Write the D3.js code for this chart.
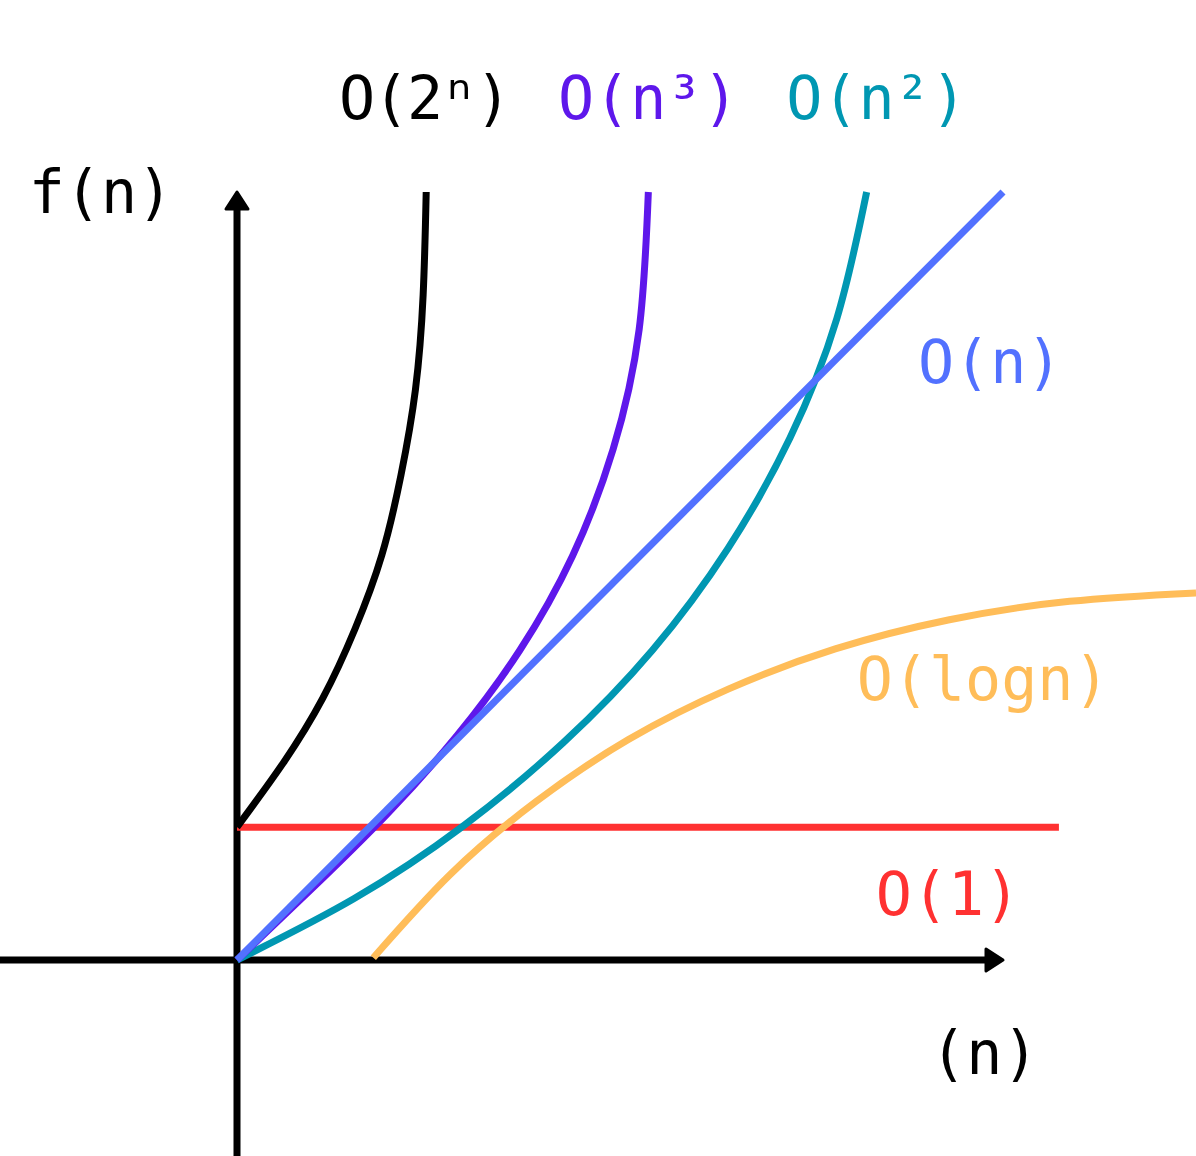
<!DOCTYPE html>
<html>
<head>
<meta charset="utf-8">
<script src="https://cdn.jsdelivr.net/npm/d3@7"></script>
<style>
  html, body { margin: 0; background: #fff; }
  svg { display: block; }
</style>
</head>
<body>
<svg id="chart" width="1196" height="1156"></svg>
<script>
// values, in chart units (origin = where the axes cross)
const exponential = [[0, 1.73], [0.60, 2.56], [1.12, 3.41], [1.54, 4.31], [1.89, 5.27],
    [2.14, 6.31], [2.33, 7.43], [2.43, 8.66], [2.47, 10.0]];
const cubic = [[0, 0], [0.99, 0.94], [1.96, 1.90], [2.87, 2.92], [3.69, 4.03],
    [4.38, 5.26], [4.91, 6.65], [5.25, 8.21], [5.37, 10.0]];
const quadratic = [[0, 0], [1.53, 0.80], [2.96, 1.75], [4.26, 2.83], [5.42, 4.03],
    [6.41, 5.36], [7.22, 6.80], [7.83, 8.35], [8.22, 10.0]];
const linear = [[0, 0], [10, 10]];
const logarithmic = [[1.78, 0.03], [2.79, 1.12], [3.90, 2.06], [5.11, 2.87], [6.42, 3.53],
    [7.81, 4.05], [9.30, 4.43], [10.87, 4.67], [12.52, 4.78]];
const constant = [[0, 1.73], [10.73, 1.73]];

const xAxisExtent = [-3.1, 10];
const yAxisExtent = [-2.56, 10];

const series = [
    { name: "O(2ⁿ)", points: exponential, color: "#000000" },
    { name: "O(n³)", points: cubic, color: "#5e17eb" },
    { name: "O(n²)", points: quadratic, color: "#0097b2" },
    { name: "O(n)", points: linear, color: "#5271ff" },
    { name: "O(logn)", points: logarithmic, color: "#ffbd59" },
    { name: "O(1)", points: constant, color: "#ff3131" }
];

// where each label sits (chart units, left edge / baseline)
const labelSpots = {
    "O(2ⁿ)": [1.33, 10.95],
    "O(n³)": [4.19, 10.95],
    "O(n²)": [7.17, 10.95],
    "O(n)": [8.89, 7.51],
    "O(logn)": [8.09, 3.39],
    "O(1)": [8.34, 0.59]
};

const svg = d3.select("#chart");

const x = d3.scaleLinear().domain([0, 10]).range([237, 1003]);
const y = d3.scaleLinear().domain([0, 10]).range([960, 192]);

const line = d3.line()
    .x(d => x(d[0]))
    .y(d => y(d[1]))
    .curve(d3.curveNatural);

// axes
const axes = svg.append("g").attr("class", "axes");

axes.append("line")
    .attr("x1", x(xAxisExtent[0])).attr("y1", y(0))
    .attr("x2", x(xAxisExtent[1]) - 10).attr("y2", y(0))
    .attr("stroke", "#000").attr("stroke-width", 7);

axes.append("line")
    .attr("x1", x(0)).attr("y1", y(yAxisExtent[0]))
    .attr("x2", x(0)).attr("y2", y(yAxisExtent[1]) + 10)
    .attr("stroke", "#000").attr("stroke-width", 7);

// arrow heads
const xt = [x(xAxisExtent[1]), y(0)];
const yt = [x(0), y(yAxisExtent[1])];
axes.append("path")
    .attr("d", `M${xt[0]},${xt[1]}L${xt[0] - 17},${xt[1] - 11}L${xt[0] - 17},${xt[1] + 11}Z`)
    .attr("fill", "#000").attr("stroke", "#000").attr("stroke-width", 3).attr("stroke-linejoin", "round");
axes.append("path")
    .attr("d", `M${yt[0]},${yt[1]}L${yt[0] - 11},${yt[1] + 17}L${yt[0] + 11},${yt[1] + 17}Z`)
    .attr("fill", "#000").attr("stroke", "#000").attr("stroke-width", 3).attr("stroke-linejoin", "round");

// curves, drawn so the straight O(n) line sits over O(n³) like in the picture
const drawOrder = ["O(1)", "O(logn)", "O(n²)", "O(n³)", "O(n)", "O(2ⁿ)"];
svg.append("g")
    .selectAll("path")
    .data(drawOrder.map(n => series.find(s => s.name === n)))
    .enter()
    .append("path")
    .attr("d", d => line(d.points))
    .attr("fill", "none")
    .attr("stroke", d => d.color)
    .attr("stroke-width", 7)
    .attr("stroke-linejoin", "round");

// labels
const font = "'DejaVu Sans Mono', 'Liberation Mono', monospace";

svg.append("g")
    .selectAll("text")
    .data(series)
    .enter()
    .append("text")
    .attr("x", d => x(labelSpots[d.name][0]))
    .attr("y", d => y(labelSpots[d.name][1]))
    .attr("fill", d => d.color)
    .style("font-family", font)
    .style("font-size", "60px")
    .style("letter-spacing", d => d.name === "O(2ⁿ)" ? "-2px" : null)
    .text(d => d.name);

// axis names
svg.append("text")
    .attr("x", x(-2.72)).attr("y", y(9.73))
    .style("font-family", font).style("font-size", "60px")
    .text("f(n)");

svg.append("text")
    .attr("x", x(9.05)).attr("y", y(-1.48))
    .style("font-family", font).style("font-size", "60px")
    .text("(n)");
</script>
</body>
</html>
